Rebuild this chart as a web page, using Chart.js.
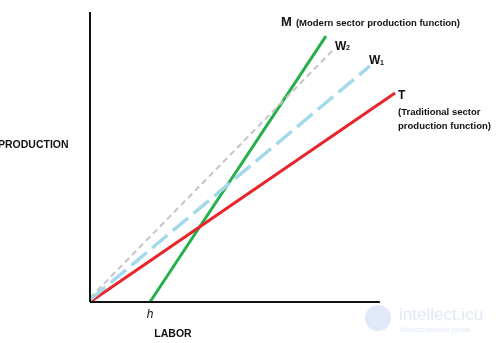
<!DOCTYPE html>
<html>
<head>
<meta charset="utf-8">
<script src="https://cdn.jsdelivr.net/npm/chart.js@4/dist/chart.umd.min.js"></script>
<style>
  body { margin: 0; background: #fff; }
  #wrap { width: 500px; height: 343px; }
</style>
</head>
<body>
<div id="wrap"><canvas id="mychart"></canvas></div>
<script>
// line end points in data units (labor, production)
var traditional = [{x: 0, y: 0}, {x: 98.4, y: 72.1}];
var modern = [{x: 19.35, y: 0}, {x: 76.1, y: 91.7}];
var wageW1 = [{x: 0, y: 0.7}, {x: 90.3, y: 81.4}];
var wageW2 = [{x: 0, y: 1.4}, {x: 78.4, y: 86.9}];
var xAxisLine = [{x: 0, y: 0}, {x: 93.5, y: 0}];
var yAxisLine = [{x: 0, y: 0}, {x: 0, y: 100}];

var font = "'Liberation Sans', Arial, sans-serif";

var labelsPlugin = {
    id: "labels",
    afterDatasetsDraw: function(chart) {
        var c = chart.ctx;
        var xs = chart.scales.x, ys = chart.scales.y;
        function px(p) { return [xs.getPixelForValue(p.x), ys.getPixelForValue(p.y)]; }
        c.save();
        c.fillStyle = "#111";
        c.textBaseline = "alphabetic";
        c.textAlign = "left";

        // M label
        var m = px(modern[1]);
        c.font = "bold 13px " + font;
        c.fillText("M", m[0] - 45, m[1] - 10);
        c.font = "bold 9.5px " + font;
        c.fillText("(Modern sector production function)", m[0] - 30, m[1] - 10);

        // W2
        var w2 = px(wageW2[1]);
        c.font = "bold 12px " + font;
        c.fillText("W", w2[0] + 2, w2[1]);
        c.font = "bold 7px " + font;
        c.fillText("2", w2[0] + 13, w2[1]);

        // W1
        var w1 = px(wageW1[1]);
        c.font = "bold 12px " + font;
        c.fillText("W", w1[0] - 1, w1[1] - 2);
        c.font = "bold 7px " + font;
        c.fillText("1", w1[0] + 10, w1[1] - 1);

        // T
        var t = px(traditional[1]);
        c.font = "bold 12px " + font;
        c.fillText("T", t[0] + 3, t[1] + 6);
        c.font = "bold 9.5px " + font;
        c.fillText("(Traditional sector", t[0] + 3, t[1] + 22);
        c.fillText("production function)", t[0] + 3, t[1] + 36);

        // axis titles
        c.font = "bold 10.5px " + font;
        c.fillText("PRODUCTION", -2, 148);
        c.textAlign = "center";
        c.fillText("LABOR", 173, 337);
        var h = px(modern[0]);
        c.font = "italic 12px " + font;
        c.fillText("h", h[0], h[1] + 16);

        // watermark
        c.globalAlpha = 0.3;
        c.fillStyle = "#9bb3e6";
        c.beginPath();
        c.arc(378, 318, 13, 0, Math.PI * 2);
        c.fill();
        c.textAlign = "left";
        c.font = "17px " + font;
        c.fillText("intellect.icu", 399, 320);
        c.font = "7px " + font;
        c.fillText("Искусственный разум", 400, 332);
        c.restore();
    }
};

function lineSet(data, color, width, dash) {
    return {
        data: data,
        borderColor: color,
        borderWidth: width,
        borderDash: dash || [],
        pointRadius: 0,
        fill: false,
        tension: 0,
        clip: false,
        borderCapStyle: "butt"
    };
}

var mychart = document.getElementById("mychart").getContext("2d");
var chart = new Chart(mychart, {
    type: "line",
    data: {
        datasets: [
            lineSet(xAxisLine, "#111", 2),
            lineSet(yAxisLine, "#111", 2),
            lineSet(wageW2, "#c4c4c4", 2, [6, 4]),
            lineSet(wageW1, "#a3d9ea", 3.5, [20, 7]),
            lineSet(traditional, "#e8252b", 3),
            lineSet(modern, "#25b04a", 3)
        ]
    },
    options: {
        responsive: true,
        maintainAspectRatio: false,
        animation: false,
        layout: { padding: { left: 90, right: 100, top: 12, bottom: 41 } },
        plugins: { legend: { display: false }, tooltip: { enabled: false } },
        scales: {
            x: { type: "linear", min: 0, max: 100, display: false },
            y: { type: "linear", min: 0, max: 100, display: false }
        }
    },
    plugins: [labelsPlugin]
});
</script>
</body>
</html>
